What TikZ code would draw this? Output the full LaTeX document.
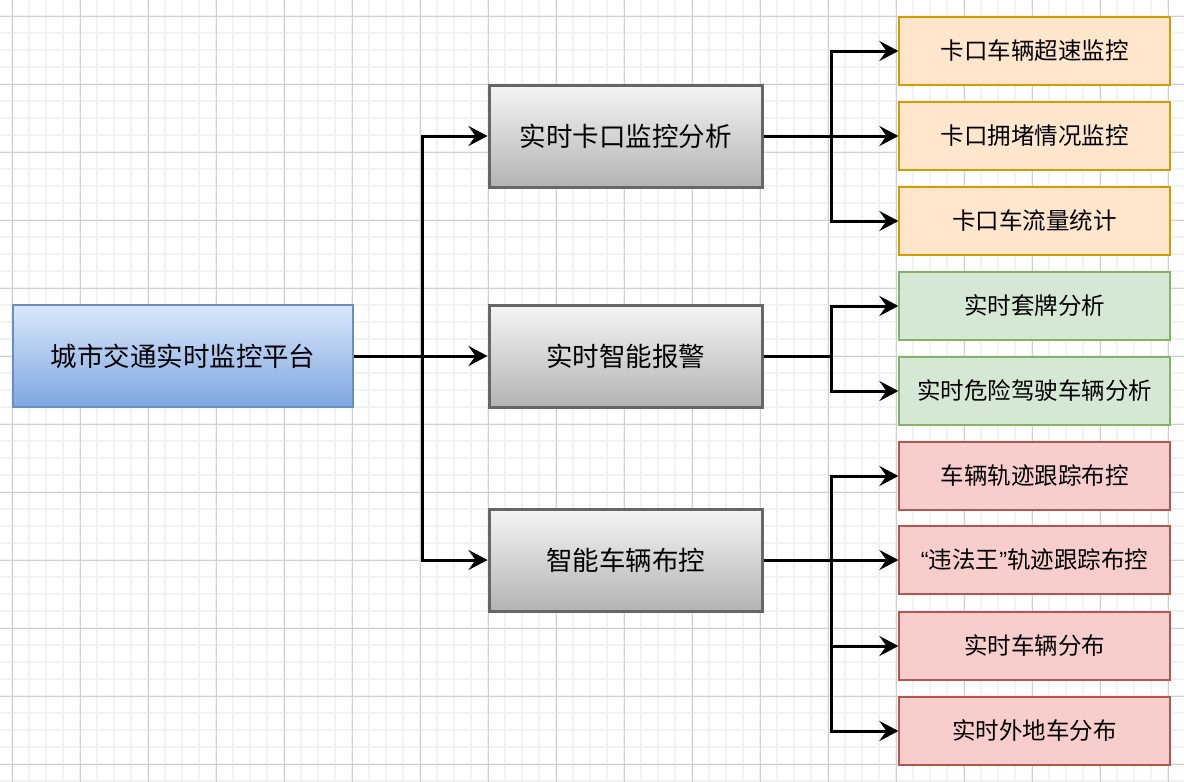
\documentclass[tikz,border=0pt]{standalone}
\usepackage{fontspec}
\newfontfamily\cjk{Noto Sans CJK SC}
\newfontfamily\latin{Liberation Sans}
\usetikzlibrary{arrows.meta}
\definecolor{gridminor}{HTML}{F2F2F2}
\definecolor{gridmajor}{HTML}{D0D0D0}
\definecolor{roottop}{HTML}{DAE8FC}
\definecolor{rootbot}{HTML}{7EA6E0}
\definecolor{rootline}{HTML}{6C8EBF}
\definecolor{midtop}{HTML}{F5F5F5}
\definecolor{midbot}{HTML}{B3B3B3}
\definecolor{midline}{HTML}{666666}
\definecolor{orangefill}{HTML}{FFE6CC}
\definecolor{orangeline}{HTML}{D79B00}
\definecolor{greenfill}{HTML}{D5E8D4}
\definecolor{greenline}{HTML}{82B366}
\definecolor{redfill}{HTML}{F8CECC}
\definecolor{redline}{HTML}{B85450}

\tikzset{
	rootbox/.style={draw=rootline, line width=2.5pt, top color=roottop, bottom color=rootbot,
		minimum width=340pt, minimum height=102pt, inner sep=0pt,
		font=\cjk\fontsize{26.5}{30}\selectfont},
	midbox/.style={draw=midline, line width=3pt, top color=midtop, bottom color=midbot,
		minimum width=273pt, minimum height=102pt, inner sep=0pt,
		font=\cjk\fontsize{26.5}{30}\selectfont},
	leafbox/.style={line width=1.2pt, minimum width=271pt, minimum height=68pt, inner sep=0pt,
		font=\cjk\fontsize{23.5}{27}\selectfont},
	orangebox/.style={leafbox, draw=orangeline, fill=orangefill},
	greenbox/.style={leafbox, draw=greenline, fill=greenfill},
	redbox/.style={leafbox, draw=redline, fill=redfill},
	arr/.style={line width=3pt, -{Stealth[length=19pt,width=20pt,inset=7pt]}}
}

\begin{document}
\begin{tikzpicture}[x=1pt,y=-1pt]
	% 背景与网格
	\useasboundingbox (0,0) rectangle (1184,782);
	\fill[white] (0,0) rectangle (1184,782);
	\foreach \x in {12,29,...,1184} \draw[gridminor, line width=1.5pt] (\x,0) -- (\x,782);
	\foreach \y in {16,33,...,782} \draw[gridminor, line width=1.5pt] (0,\y) -- (1184,\y);
	\foreach \x in {12,80,...,1184} \draw[gridmajor, line width=1pt] (\x,0) -- (\x,782);
	\foreach \y in {16,84,...,782} \draw[gridmajor, line width=1pt] (0,\y) -- (1184,\y);

	% 根节点
	\node (root) [rootbox] at (183,356) {城市交通实时监控平台};

	% 二级节点
	\node (kakou) [midbox] at (625.5,136) {实时卡口监控分析};
	\node (baojing) [midbox] at (625.5,356) {实时智能报警};
	\node (bukong) [midbox] at (625.5,560) {智能车辆布控};

	% 三级节点
	\node (chaosu) [orangebox] at (1034.5,51) {卡口车辆超速监控};
	\node (yongdu) [orangebox] at (1034.5,136) {卡口拥堵情况监控};
	\node (liuliang) [orangebox] at (1034.5,221) {卡口车流量统计};
	\node (taopai) [greenbox] at (1034.5,306) {实时套牌分析};
	\node (weixian) [greenbox] at (1034.5,391) {实时危险驾驶车辆分析};
	\node (guiji) [redbox] at (1034.5,476) {车辆轨迹跟踪布控};
	\node (weifa) [redbox] at (1034.5,560) {{\latin “}违法王{\latin ”}轨迹跟踪布控};
	\node (fenbu) [redbox] at (1034.5,646) {实时车辆分布};
	\node (waidi) [redbox] at (1034.5,731) {实时外地车分布};

	% 连线
	\draw[arr] (root.east) -- ++(68,0) |- (kakou.west);
	\draw[arr] (root.east) -- (baojing.west);
	\draw[arr] (root.east) -- ++(68,0) |- (bukong.west);

	\draw[arr] (kakou.east) -- ++(68,0) |- (chaosu.west);
	\draw[arr] (kakou.east) -- (yongdu.west);
	\draw[arr] (kakou.east) -- ++(68,0) |- (liuliang.west);

	\draw[arr] (baojing.east) -- ++(68,0) |- (taopai.west);
	\draw[arr] (baojing.east) -- ++(68,0) |- (weixian.west);

	\draw[arr] (bukong.east) -- ++(68,0) |- (guiji.west);
	\draw[arr] (bukong.east) -- (weifa.west);
	\draw[arr] (bukong.east) -- ++(68,0) |- (fenbu.west);
	\draw[arr] (bukong.east) -- ++(68,0) |- (waidi.west);
\end{tikzpicture}
\end{document}
